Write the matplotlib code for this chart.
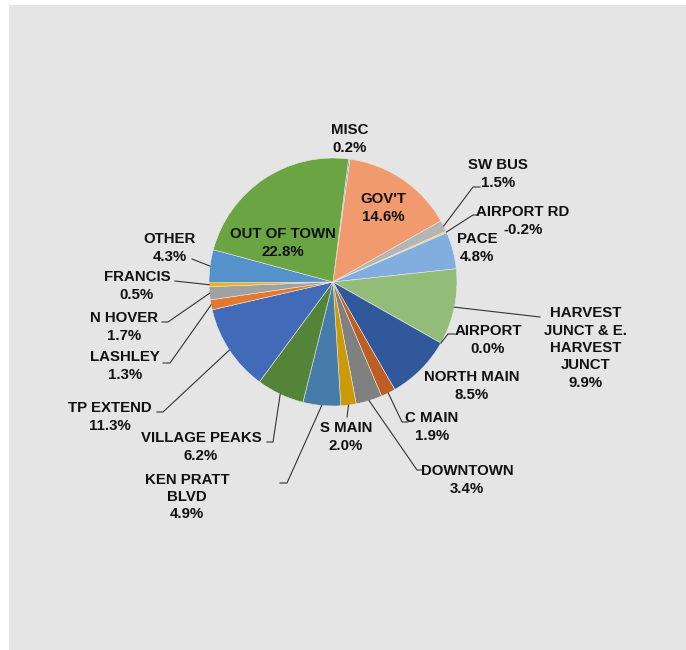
import numpy as np
import matplotlib
matplotlib.use("Agg")
import matplotlib.pyplot as plt
from matplotlib.patches import Rectangle

# share of trips by area (percent), clockwise from the top
areas = ["MISC", "GOV'T", "SW BUS", "AIRPORT RD", "PACE",
         "HARVEST\nJUNCT & E.\nHARVEST\nJUNCT", "AIRPORT", "NORTH MAIN",
         "C MAIN", "DOWNTOWN", "S MAIN", "KEN PRATT\nBLVD", "VILLAGE PEAKS",
         "TP EXTEND", "LASHLEY", "N HOVER", "FRANCIS", "OTHER", "OUT OF TOWN"]
shares = [0.2, 14.6, 1.5, -0.2, 4.8, 9.9, 0.0, 8.5, 1.9, 3.4, 2.0, 4.9, 6.2,
          11.3, 1.3, 1.7, 0.5, 4.3, 22.8]
colors = ["#5B9BD5", "#F09A6E", "#B5B5B5", "#FFCC44", "#82AEDF", "#93BC79",
          "#2F5597", "#31589A", "#BE5E22", "#808080", "#CC9A04", "#467BAA",
          "#548437", "#416BB9", "#E4782F", "#A1A1A1", "#F2B400", "#5591CA",
          "#6AA443"]

# label placement in pixels (x, y from top) and leader bends
label_pos = {
    "MISC": (350, 139), "GOV'T": (383, 208), "SW BUS": (498, 174),
    "AIRPORT RD": (523, 221), "PACE": (477, 248),
    "HARVEST\nJUNCT & E.\nHARVEST\nJUNCT": (586, 348),
    "AIRPORT": (488, 340), "NORTH MAIN": (472, 386), "C MAIN": (432, 427),
    "DOWNTOWN": (467, 480), "S MAIN": (346, 437),
    "KEN PRATT\nBLVD": (187, 497), "VILLAGE PEAKS": (201, 447),
    "TP EXTEND": (110, 417), "LASHLEY": (125, 366), "N HOVER": (124, 327),
    "FRANCIS": (137, 286), "OTHER": (170, 248), "OUT OF TOWN": (283, 243),
}
leaders = {
    "SW BUS": [(473, 187), (480, 187)],
    "AIRPORT RD": [(473, 215), (477, 215)],
    "HARVEST\nJUNCT & E.\nHARVEST\nJUNCT": [(540, 317)],
    "AIRPORT": [(448, 334), (455, 334)],
    "C MAIN": [(402, 422), (408, 422)],
    "DOWNTOWN": [(417, 470), (423, 470)],
    "S MAIN": [(347, 417)],
    "KEN PRATT\nBLVD": [(287, 483), (280, 483)],
    "VILLAGE PEAKS": [(273, 442), (267, 442)],
    "TP EXTEND": [(163, 412), (157, 412)],
    "LASHLEY": [(170, 363), (163, 363)],
    "N HOVER": [(168, 322), (162, 322)],
    "FRANCIS": [(175, 281)],
    "OTHER": [(192, 259)],
}

W, H = 686, 650
cx, cy, r = 333, 282, 124

plt.rcParams['font.family'] = ['Liberation Sans', 'DejaVu Sans']

fig = plt.figure(figsize=(W / 100, H / 100), dpi=100)
fig.patch.set_facecolor("white")
ax = fig.add_axes([0, 0, 1, 1])

# grey chart area
ax.add_patch(Rectangle((9, 0), W - 9, H - 5, facecolor="#E5E5E5",
                       edgecolor="none", zorder=0))

sizes = [abs(v) for v in shares]
wedges, _ = ax.pie(sizes, colors=colors, startangle=82.8, counterclock=False,
                   center=(cx, H - cy), radius=r, frame=True,
                   wedgeprops=dict(edgecolor="#E8E8E8", linewidth=0.4))
ax.set_xlim(0, W)
ax.set_ylim(0, H)
ax.set_aspect("equal")
ax.axis("off")

for w, name, val in zip(wedges, areas, shares):
    tx, ty = label_pos[name]
    ax.text(tx, H - ty, f"{name}\n{val:.1f}%", ha="center", va="center",
            multialignment="center", fontsize=10.8, fontweight="bold",
            color="#111111", linespacing=1.3, zorder=5)
    if name in leaders:
        mid = np.deg2rad((w.theta1 + w.theta2) / 2)
        xs = [cx + r * np.cos(mid)] + [p[0] for p in leaders[name]]
        ys = [H - cy + r * np.sin(mid)] + [H - p[1] for p in leaders[name]]
        ax.plot(xs, ys, color="#333333", lw=0.8, zorder=4)

fig.savefig("out.png", dpi=100)
